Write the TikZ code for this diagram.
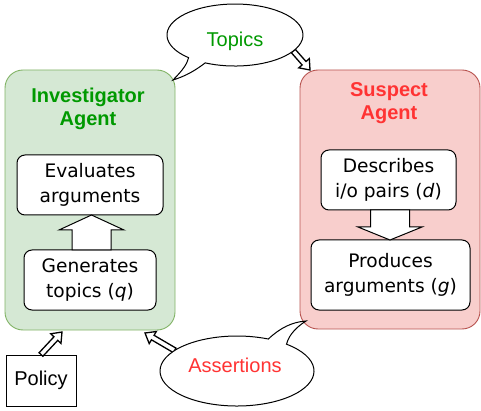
\documentclass[tikz,border=0pt]{standalone}
\usepackage{fontspec}
\setmainfont{Liberation Sans}
\newfontfamily\dejavu{DejaVu Sans}
\usetikzlibrary{calc}
\definecolor{grfill}{HTML}{D5E8D4}
\definecolor{grline}{HTML}{82B366}
\definecolor{rdfill}{HTML}{F8CECC}
\definecolor{rdline}{HTML}{B85450}
\definecolor{grtext}{HTML}{009900}
\definecolor{rdtext}{HTML}{FF3333}
\newcommand\flexarr[6][]{%
  \coordinate (fa-base) at ($(#3)!#6!(#2)$);
  \draw[#1] ($(#2)!#4!90:(#3)$) -- ($(fa-base)!#4!-90:(#2)$) -- ($(fa-base)!#5!-90:(#2)$)
    -- (#3) -- ($(fa-base)!#5!90:(#2)$) -- ($(fa-base)!#4!90:(#2)$) -- ($(#2)!#4!-90:(#3)$) -- cycle;}
\tikzset{
  agent/.style={draw, line width=0.9pt, rounded corners=18pt, inner sep=0pt},
  title/.style={font=\bfseries\fontsize{20pt}{23.5pt}\selectfont, align=center, inner sep=0pt},
  task/.style={draw, fill=white, line width=1pt, rounded corners=8pt, align=center, inner sep=0pt,
    font=\dejavu\fontsize{18.6pt}{25pt}\selectfont},
  bigarrow/.style={draw, fill=white, line width=1pt, line join=miter},
  smallarrow/.style={draw, fill=white, line width=1.3pt, line join=miter},
  callout/.style={draw, fill=white, line width=1pt},
  plain/.style={font=\fontsize{20pt}{24pt}\selectfont, inner sep=0pt},
}
\begin{document}
\begin{tikzpicture}[x=1pt,y=-1pt]
\useasboundingbox (0,0) rectangle (481,411);
% agents
\node[agent, fill=grfill, draw=grline, minimum width=170pt, minimum height=260pt] (inv) at (90,200) {};
\node[agent, fill=rdfill, draw=rdline, minimum width=180pt, minimum height=259pt] (sus) at (390,199.5) {};
\node[title, text=grtext] (invtitle) at (88,109) {Investigator\\Agent};
\node[title, text=rdtext] (sustitle) at (389,103) {Suspect\\Agent};
% tasks
\node[task, minimum width=146pt, minimum height=60pt] (eval) at (90,185) {Evaluates\\arguments};
\node[task, minimum width=132pt, minimum height=60pt] (gen) at (90,280) {Generates\\topics (\textit{q})};
\node[task, minimum width=135pt, minimum height=60pt] (desc) at (388.5,180) {Describes\\i/o pairs (\textit{d})};
\node[task, minimum width=159pt, minimum height=70pt] (prod) at (390.5,275) {Produces\\arguments (\textit{g})};
% internal block arrows
\coordinate (genout) at (91.5,250);
\coordinate (evalin) at (91.5,215);
\flexarr[bigarrow]{genout}{evalin}{19.5pt}{32.5pt}{15pt}
\coordinate (descout) at (390,210);
\coordinate (prodin) at (390,240);
\flexarr[bigarrow]{descout}{prodin}{19.5pt}{32pt}{13pt}
% policy
\node[draw, line width=1pt, minimum width=70pt, minimum height=51pt, inner sep=0pt, font=\fontsize{20pt}{24pt}\selectfont] (policy) at (41,380.5) {Policy};
\coordinate (invpolicyin) at (62,332);
\flexarr[smallarrow]{policy.north}{invpolicyin}{2.6pt}{7pt}{9pt}
% topics arrow
\coordinate (topicsout) at (293.3,51);
\coordinate (sustopicsin) at (310,70);
\flexarr[smallarrow]{topicsout}{sustopicsin}{2.6pt}{7pt}{9pt}
% assertions arrow
\coordinate (assertout) at (174.7,350.4);
\coordinate (invassertin) at (145,333);
\flexarr[smallarrow]{assertout}{invassertin}{2.6pt}{7pt}{9pt}
% callouts
\coordinate (topicstip) at (173,80);
\draw[callout] (188.6,57.7) arc[start angle=133, end angle=476, x radius=68, y radius=31]
  .. controls (196,70) and (186,76) .. (topicstip)
  .. controls (183,70) and (187,64) .. (188.6,57.7) -- cycle;
\node[plain, text=grtext] (topics) at (235,41.5) {Topics};
\coordinate (asserttip) at (306,321);
\draw[callout] (286.5,344.2) arc[start angle=310, end angle=654, x radius=77, y radius=35]
  .. controls (280,328) and (292,322) .. (asserttip)
  .. controls (298,326) and (289,334) .. (286.5,344.2) -- cycle;
\node[plain, text=rdtext] (assertions) at (235,365.5) {Assertions};
\end{tikzpicture}
\end{document}
